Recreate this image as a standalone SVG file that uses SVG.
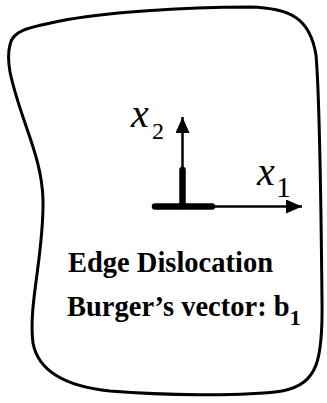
<svg xmlns="http://www.w3.org/2000/svg" width="327" height="403" viewBox="0 0 327 403">
<style>
.outline{fill:none;stroke:#000;stroke-width:3;stroke-linejoin:round}
.thin{stroke:#000;stroke-width:2.5;fill:none}
.thick{stroke:#000;stroke-width:6.5;stroke-linecap:round;fill:none}
.var{font-family:"Liberation Serif","Times New Roman",serif;font-style:italic;fill:#000}
.sub{font-family:"Liberation Serif","Times New Roman",serif;fill:#000}
.lbl{font-family:"Liberation Serif","Times New Roman",serif;font-weight:bold;fill:#000}
</style>
<defs>
<marker id="ah" markerUnits="userSpaceOnUse" markerWidth="20" markerHeight="16" refX="16" refY="7" orient="auto">
<path d="M0,0 L16,7 L0,14 Z" fill="#000"/>
</marker>
</defs>
<rect width="327" height="403" fill="#fff"/>
<g id="body">
<path class="outline" d="M10,45 C12,30 30,27 60,21 C100,13 180,7 250,7 C290,8 310,18 316,55 C320,100 321,200 322,300 C323,360 318,384 282,391 C240,397 160,395 110,391 C62,386 38,370 33,343 C28,305 44,255 43,200 C42,155 20,120 10,72 C8,60 8,52 10,45 Z"/>
</g>
<g id="connectors">
<line class="thin" x1="182.5" y1="170" x2="182.5" y2="117" marker-end="url(#ah)"/>
<line class="thin" x1="212" y1="206.5" x2="302" y2="206.5" marker-end="url(#ah)"/>
<line class="thick" x1="182.5" y1="206" x2="182.5" y2="170"/>
<line class="thick" x1="155" y1="206.5" x2="212" y2="206.5"/>
</g>
<g id="label-x2">
<text class="var" x="131" y="127" font-size="40">x</text>
<text class="sub" x="152" y="139" font-size="24">2</text>
</g>
<g id="label-x1">
<text class="var" x="257" y="185" font-size="40">x</text>
<text class="sub" x="276" y="197" font-size="30">1</text>
</g>
<g id="caption">
<text class="lbl" x="68" y="272" font-size="28.5" textLength="205" lengthAdjust="spacingAndGlyphs">Edge Dislocation</text>
<text class="lbl" x="67" y="316" font-size="28.5">Burger’s vector: b<tspan font-size="22" dy="9">1</tspan></text>
</g>
</svg>
